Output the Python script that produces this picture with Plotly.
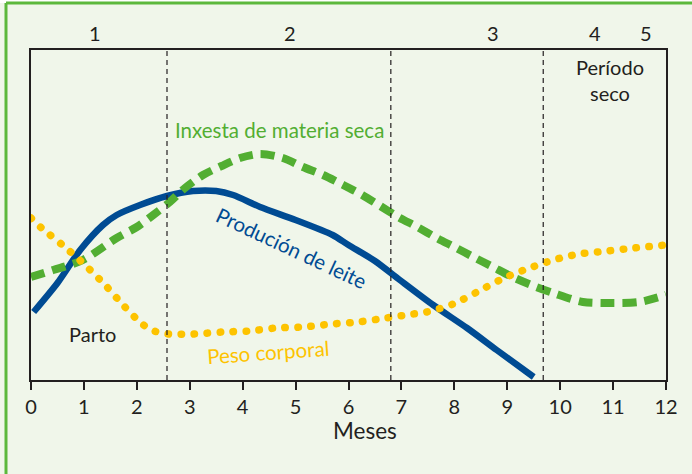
import plotly.graph_objects as go

# ---- data (x = months, y = relative level) ----
milk_months = [0.05, 0.5, 0.93, 1.36, 1.62, 2.06, 2.57, 3.06, 3.5, 3.82, 4.33, 5.0, 5.7, 6.0, 6.5, 6.97, 7.6, 8.24, 8.8, 9.5]
milk_values = [68, 97, 130, 155, 165, 175, 184, 189, 189, 185, 173, 160, 145, 135, 119, 100, 75, 52, 30, 3]

intake_months = [0, 0.42, 0.98, 1.62, 2.0, 2.31, 2.6, 2.91, 3.25, 3.6, 3.95, 4.33, 4.76, 5.14, 5.52, 5.9,
                 6.26, 6.6, 6.94, 7.3, 7.67, 8.0, 8.36, 8.73, 9.1, 9.5, 9.87, 10.43, 11.0, 11.5, 12.0]
intake_values = [103, 110, 120, 142, 153, 165, 177, 192, 205, 214, 222, 226, 222, 213, 205, 195,
                 185, 174, 163, 153, 142, 133, 123, 113, 103, 94, 87, 78, 77, 78, 85]

weight_months = [0, 0.2, 0.64, 1.02, 1.4, 1.74, 2.1, 2.33, 2.59, 3.08, 3.62, 4.12, 4.63, 5.14, 5.69, 6.18,
                 6.71, 7.22, 7.48, 7.98, 8.43, 8.9, 9.37, 9.87, 10.36, 10.89, 11.4, 12.0]
weight_values = [162, 152, 133, 115, 95, 75, 56, 49, 46, 46, 48, 49, 52, 53, 56, 58,
                 62, 66, 68, 76, 88, 101, 111, 120, 126, 129, 132, 135]

period_bounds = [2.57, 6.8, 9.68]
period_labels = ["1", "2", "3", "4", "5"]
period_label_x = [1.2, 4.9, 8.73, 10.66, 11.63]
tick_values = list(range(0, 13))

BLUE = "#004b93"
GREEN = "#52ae32"
YELLOW = "#fdc300"
DARK = "#231f20"
BG = "#f0f6ea"
FONT = "Lato, 'Open Sans', sans-serif"

fig = go.Figure()
fig.add_trace(go.Scatter(x=milk_months, y=milk_values, mode="lines",
                         line=dict(color=BLUE, width=6.5, shape="spline", smoothing=0.7),
                         hoverinfo="skip", showlegend=False))
fig.add_trace(go.Scatter(x=intake_months, y=intake_values, mode="lines",
                         line=dict(color=GREEN, width=8, shape="spline", smoothing=0.8, dash="14px,8px"),
                         hoverinfo="skip", showlegend=False))
fig.add_trace(go.Scatter(x=weight_months, y=weight_values, mode="lines",
                         line=dict(color=YELLOW, width=7.5, shape="spline", smoothing=0.8, dash="0.5px,12.5px"),
                         hoverinfo="skip", showlegend=False))

shapes = []
for b in period_bounds:
    shapes.append(dict(type="line", xref="x", yref="paper", x0=b, x1=b, y0=0, y1=1,
                       line=dict(color=DARK, width=1.2, dash="5px,4px"), layer="above"))
# outer green frame (left and top edges) and white strip above
L, T, W, H = 31, 50, 635, 330
def px(xp):
    return (xp - L) / W
def py(yp):
    return (T + H - yp) / H
shapes.append(dict(type="rect", xref="paper", yref="paper", x0=px(-5), x1=px(700), y0=py(3), y1=py(-5),
                   fillcolor="white", line=dict(width=0), layer="below"))
shapes.append(dict(type="line", xref="paper", yref="paper", x0=px(6), x1=px(700), y0=py(3), y1=py(3),
                   line=dict(color="#5cb83c", width=3)))
shapes.append(dict(type="line", xref="paper", yref="paper", x0=px(6), x1=px(6), y0=py(3), y1=py(480),
                   line=dict(color="#5cb83c", width=3)))

annotations = []
for lab, xx in zip(period_labels, period_label_x):
    annotations.append(dict(x=xx, y=py(33), xref="x", yref="paper", text=lab, showarrow=False,
                            font=dict(family=FONT, size=20, color=DARK), xanchor="center", yanchor="middle"))
annotations += [
    dict(x=10.94, y=300, text="Período<br>seco", showarrow=False, font=dict(family=FONT, size=20, color=DARK),
         xanchor="center", yanchor="middle"),
    dict(x=4.69, y=250, text="Inxesta de materia seca", showarrow=False,
         font=dict(family=FONT, size=20.5, color=GREEN), xanchor="center", yanchor="middle"),
    dict(x=4.93, y=132, text="Produción de leite", showarrow=False, textangle=25,
         font=dict(family=FONT, size=20.5, color=BLUE), xanchor="center", yanchor="middle"),
    dict(x=1.17, y=46, text="Parto", showarrow=False,
         font=dict(family=FONT, size=20, color=DARK), xanchor="center", yanchor="middle"),
    dict(x=4.48, y=28, text="Peso corporal", showarrow=False, textangle=-4,
         font=dict(family=FONT, size=20.5, color=YELLOW), xanchor="center", yanchor="middle"),
    dict(x=6.31, y=py(430), xref="x", yref="paper", text="Meses", showarrow=False,
         font=dict(family=FONT, size=22.5, color=DARK), xanchor="center", yanchor="middle"),
]

fig.update_layout(
    width=692, height=474,
    margin=dict(l=L, r=692 - L - W, t=T, b=474 - T - H, pad=0),
    paper_bgcolor=BG, plot_bgcolor=BG,
    shapes=shapes, annotations=annotations,
    xaxis=dict(range=[0, 12], tickvals=tick_values, ticks="outside", ticklen=8, tickwidth=1.5,
               tickcolor=DARK, showline=True, linecolor=DARK, linewidth=1.5, mirror=True,
               showgrid=False, zeroline=False, tickfont=dict(family=FONT, size=20, color=DARK)),
    yaxis=dict(range=[0, 330], showticklabels=False, ticks="", showline=True, linecolor=DARK,
               linewidth=1.5, mirror=True, showgrid=False, zeroline=False),
)

post = """
document.body.style.margin = '0';
document.body.style.padding = '0';
document.body.style.overflow = 'hidden';
var gd = document.getElementById('{plot_id}');
function roundDots(){
  var tr = gd.querySelectorAll('.scatterlayer .trace');
  if (tr.length > 2) {
    tr[2].querySelectorAll('path.js-line').forEach(function(p){ p.style.strokeLinecap = 'round'; });
  }
}
roundDots();
gd.on && gd.on('plotly_afterplot', roundDots);
"""
fig.write_html("out.html", post_script=post, config={"displayModeBar": False})
